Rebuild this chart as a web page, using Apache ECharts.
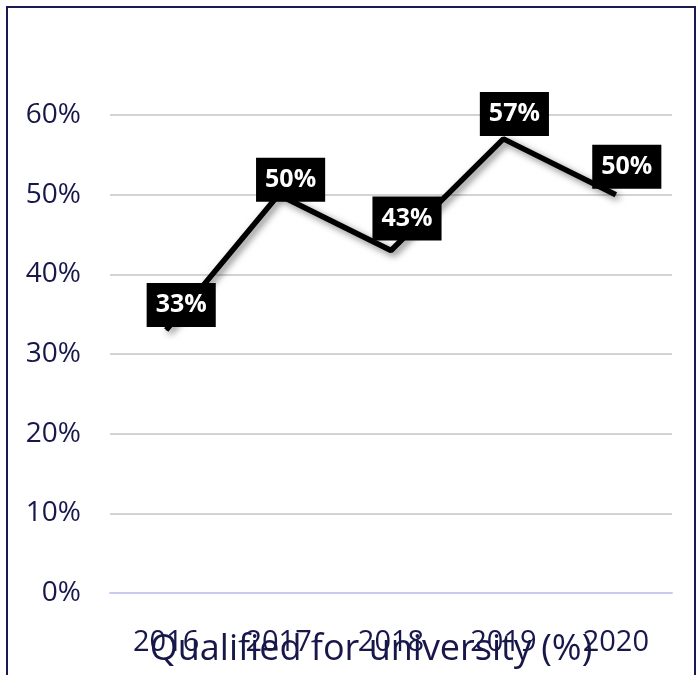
<!DOCTYPE html>
<html>
<head>
<meta charset="utf-8">
<script src="https://cdn.jsdelivr.net/npm/echarts@6/dist/echarts.min.js"></script>
<style>
  html, body { margin: 0; padding: 0; background: #fff; }
  #chart { width: 698px; height: 675px; }
</style>
</head>
<body>
<div id="chart"></div>
<script>
// data
const years = ['2016', '2017', '2018', '2019', '2020'];
const qualified = [33, 50, 43, 57, 50];

// label nudges (px) so the black boxes sit like in the original
const labelShift = [[15, -25], [12, -15], [16, -32], [11, -25], [11, -28]];

const navy = '#17174a';
const chart = echarts.init(document.getElementById('chart'));

chart.setOption({
  animation: false,
  title: {
    text: 'Qualified for university (%)',
    left: 366,
    top: 627,
    textAlign: 'center',
    textStyle: { fontFamily: 'Open Sans', fontSize: 36, fontWeight: 'normal', color: navy }
  },
  graphic: [{
    type: 'rect',
    shape: { x: 7, y: 7, width: 688, height: 720 },
    style: { fill: 'none', stroke: '#1a1a52', lineWidth: 2 },
    z: 0
  }],
  grid: { left: 110, right: 26, top: 115, bottom: 82 },
  xAxis: {
    type: 'category',
    data: years,
    boundaryGap: true,
    axisTick: { show: false },
    axisLine: { lineStyle: { color: '#cbcbf0', width: 2 } },
    axisLabel: { margin: 35, fontFamily: 'Open Sans', fontSize: 29, color: navy }
  },
  yAxis: {
    type: 'value',
    min: 0,
    max: 60,
    interval: 10,
    axisLine: { show: false },
    axisTick: { show: false },
    splitLine: { lineStyle: { color: '#c4c4c4', width: 1.5 } },
    axisLabel: { formatter: '{value}%', margin: 29, fontFamily: 'Open Sans', fontSize: 28, color: navy }
  },
  series: [{
    type: 'line',
    data: qualified.map((v, i) => ({
      value: v,
      label: { offset: labelShift[i] }
    })),
    symbol: 'circle',
    symbolSize: 1,
    itemStyle: { color: '#000' },
    lineStyle: {
      color: '#000',
      width: 5.5,
      shadowColor: 'rgba(0,0,0,0.5)',
      shadowBlur: 7,
      shadowOffsetX: 3,
      shadowOffsetY: 3
    },
    label: {
      show: true,
      position: 'inside',
      formatter: '{c}%',
      fontFamily: 'Open Sans',
      fontWeight: 'bold',
      fontSize: 25,
      lineHeight: 32,
      color: '#fff',
      backgroundColor: '#000',
      padding: [6, 9]
    },
    z: 3
  }]
});
</script>
</body>
</html>
